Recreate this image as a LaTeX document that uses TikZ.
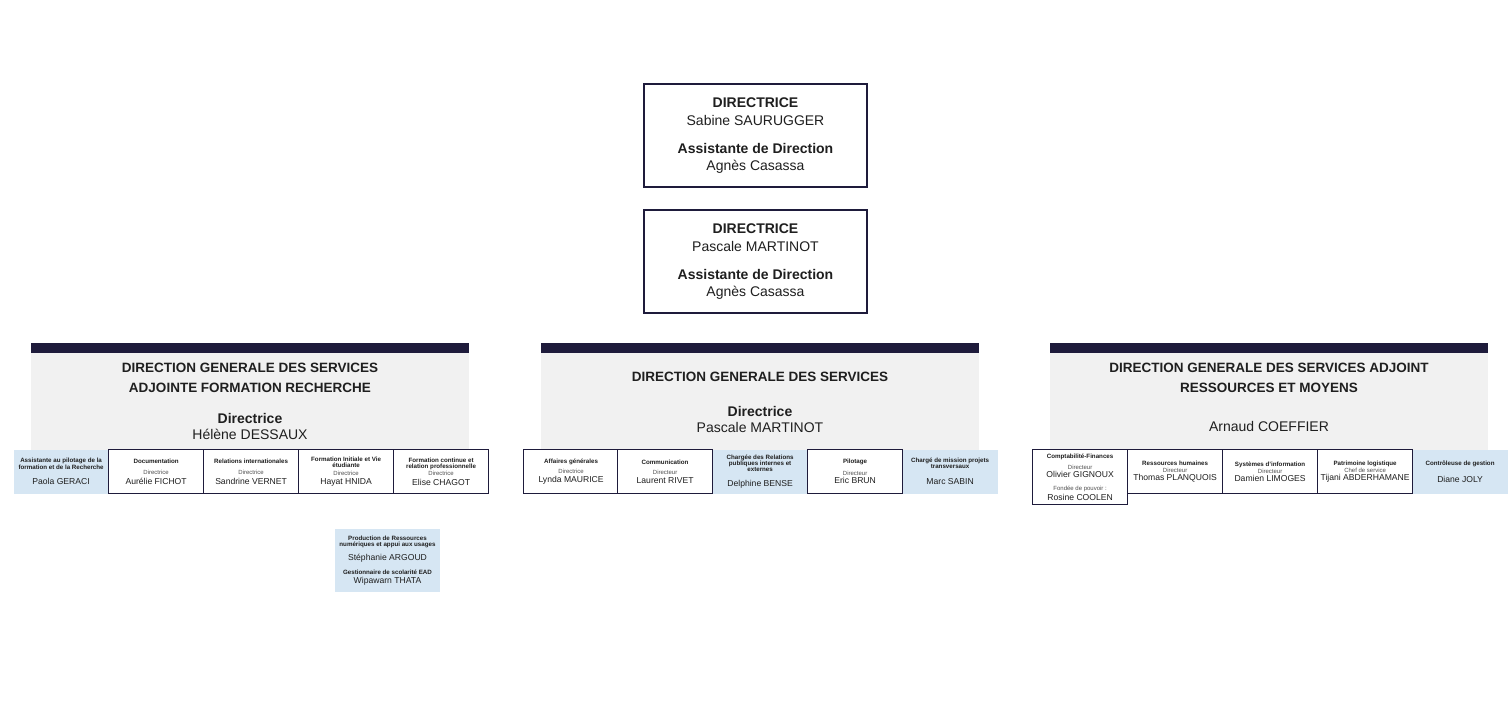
\documentclass[tikz,border=0pt]{standalone}
\usepackage{fontspec}
\setmainfont{Liberation Sans}
\definecolor{navy}{HTML}{1E1B3B}
\definecolor{panelgray}{HTML}{F1F1F1}
\definecolor{lightblue}{HTML}{D6E6F3}
\definecolor{ink}{HTML}{1F1F1F}
\definecolor{rolegray}{HTML}{4F4F4F}
% line spacing given only by the \\[..] lengths
\newcommand{\nolead}{\baselineskip=0pt\lineskiplimit=-100pt\relax}
\newcommand{\boxtitle}{\fontsize{6.2}{0}\selectfont\bfseries}
\newcommand{\boxrole}{\fontsize{6}{0}\selectfont\color{rolegray}}
\newcommand{\boxname}{\fontsize{8.6}{0}\selectfont}
\begin{document}
\begin{tikzpicture}[x=1pt, y=-1pt,
    every node/.style={inner sep=0pt, align=center, text=ink},
    topbox/.style={draw=navy, line width=2pt, fill=white, minimum width=223pt, minimum height=103pt, font=\fontsize{14}{0}\selectfont\nolead},
    headtitle/.style={font=\fontsize{13.5}{0}\selectfont\bfseries\nolead},
    headname/.style={font=\fontsize{14}{0}\selectfont\nolead},
    unitbox/.style={draw=navy, line width=1.2pt, fill=white, minimum width=95pt, minimum height=44pt, anchor=north west, font=\fontsize{6.2}{0}\selectfont\nolead},
    tallbox/.style={unitbox, minimum height=55pt},
    bluebox/.style={unitbox, draw=none, fill=lightblue}]
    \fill[white] (0,0) rectangle (1512,704);
    \useasboundingbox (0,0) rectangle (1512,704);

    % presidency
    \node[topbox] (rector) at (755.5,135.5) {\textbf{DIRECTRICE}\\[18pt]Sabine SAURUGGER\\[28pt]\textbf{Assistante de Direction}\\[17pt]Agnès Casassa};
    \node[topbox] (dir) at (755.5,261.5) {\textbf{DIRECTRICE}\\[18pt]Pascale MARTINOT\\[28pt]\textbf{Assistante de Direction}\\[17pt]Agnès Casassa};

    % the three general directions
    \foreach \px in {31, 541, 1050} {
        \fill[panelgray] (\px,353) rectangle ++(438,105);
        \fill[navy] (\px,343) rectangle ++(438,10);
    }
    \node[headtitle] (dgsa-t) at (250,378) {DIRECTION GENERALE DES SERVICES\\[20pt]ADJOINTE FORMATION RECHERCHE};
    \node[headname] (dgsa-d) at (250,426) {\textbf{Directrice}\\[16pt]Hélène DESSAUX};
    \node[headtitle] (dgs-t) at (760,377) {DIRECTION GENERALE DES SERVICES};
    \node[headname] (dgs-d) at (760,419) {\textbf{Directrice}\\[16pt]Pascale MARTINOT};
    \node[headtitle] (dgsr-t) at (1269,378) {DIRECTION GENERALE DES SERVICES ADJOINT\\[20pt]RESSOURCES ET MOYENS};
    \node[headname] (dgsr-d) at (1269,426) {Arnaud COEFFIER};

    % formation recherche
    \foreach \xx/\st/\txt [count=\i] in {
        13/bluebox/{\boxtitle Assistante au pilotage de la\\[6.2pt]\boxtitle formation et de la Recherche\\[15.5pt]\boxname Paola GERACI},
        108/unitbox/{\boxtitle Documentation\\[11.5pt]\boxrole Directrice\\[9.3pt]\boxname Aurélie FICHOT},
        203/unitbox/{\boxtitle Relations internationales\\[11.5pt]\boxrole Directrice\\[9.3pt]\boxname Sandrine VERNET},
        298/unitbox/{\boxtitle Formation Initiale et Vie\\[6.2pt]\boxtitle étudiante\\[7.3pt]\boxrole Directrice\\[9.3pt]\boxname Hayat HNIDA},
        393/unitbox/{\boxtitle Formation continue et\\[6.2pt]\boxtitle relation professionnelle\\[7.3pt]\boxrole Directrice\\[9.3pt]\boxname Elise CHAGOT}} {
        \node[\st] (fr\i) at (\xx,449) {\txt};
    }
    \node[bluebox, anchor=center, minimum width=105pt, minimum height=63pt] (prod) at (387.5,560.5) {\boxtitle Production de Ressources\\[6.2pt]\boxtitle numériques et appui aux usages\\[13.9pt]\boxname Stéphanie ARGOUD\\[14.1pt]\boxtitle Gestionnaire de scolarité EAD\\[8.9pt]\boxname Wipawarn THATA};

    % services
    \foreach \xx/\st/\txt [count=\i] in {
        523/unitbox/{\boxtitle Affaires générales\\[10pt]\boxrole Directrice\\[8.4pt]\boxname Lynda MAURICE},
        617/unitbox/{\boxtitle Communication\\[10pt]\boxrole Directeur\\[8.4pt]\boxname Laurent RIVET},
        712/bluebox/{\boxtitle Chargée des Relations\\[6.2pt]\boxtitle publiques internes et\\[6.2pt]\boxtitle externes\\[14.9pt]\boxname Delphine BENSE},
        807/unitbox/{\boxtitle Pilotage\\[12pt]\boxrole Directeur\\[8pt]\boxname Eric BRUN},
        902/bluebox/{\boxtitle Chargé de mission projets\\[6.2pt]\boxtitle transversaux\\[16pt]\boxname Marc SABIN}} {
        \node[\st] (sv\i) at (\xx,449) {\txt};
    }

    % ressources et moyens
    \foreach \xx/\st/\txt [count=\i] in {
        1032/tallbox/{\boxtitle Comptabilité-Finances\\[11pt]\boxrole Directeur\\[7.9pt]\boxname Olivier GIGNOUX\\[13.1pt]\boxrole Fondée de pouvoir :\\[9.9pt]\boxname Rosine COOLEN},
        1127/unitbox/{\boxtitle Ressources humaines\\[7pt]\boxrole Directeur\\[7.9pt]\boxname Thomas PLANQUOIS},
        1222/unitbox/{\boxtitle Systèmes d'information\\[7pt]\boxrole Directeur\\[7.9pt]\boxname Damien LIMOGES},
        1317/unitbox/{\boxtitle Patrimoine logistique\\[7pt]\boxrole Chef de service\\[7.9pt]\boxname Tijani ABDERHAMANE},
        1412/bluebox/{\boxtitle Contrôleuse de gestion\\[16.9pt]\boxname Diane JOLY}} {
        \node[\st] (rm\i) at (\xx,449) {\txt};
    }
\end{tikzpicture}
\end{document}
